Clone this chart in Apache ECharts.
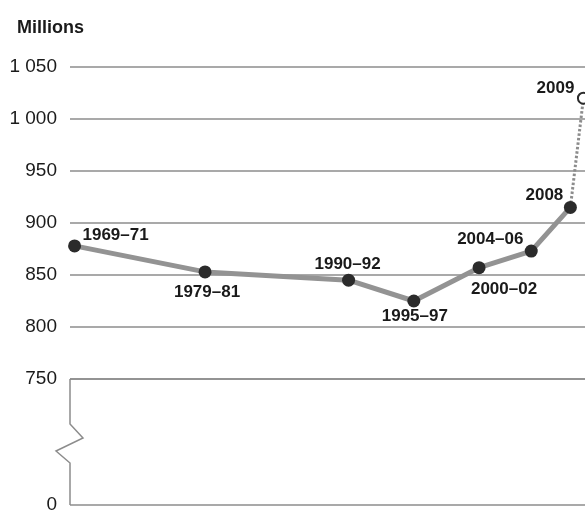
<!DOCTYPE html>
<html>
<head>
<meta charset="utf-8">
<script src="https://cdn.jsdelivr.net/npm/echarts@6/dist/echarts.min.js"></script>
<style>
  html, body { margin: 0; padding: 0; background: #fff; overflow: hidden; }
  #chart { width: 597px; height: 516px; }
</style>
</head>
<body>
<div id="chart"></div>
<script>
// Number of undernourished people in the world (millions)
const periods = ['1969–71', '1979–81', '1990–92', '1995–97', '2000–02', '2004–06', '2008', '2009'];
const midYears = [1970, 1980, 1991, 1996, 2001, 2005, 2008, 2009];
const undernourished = [878, 853, 845, 825, 857, 873, 915, 1020];
const upperTicks = [750, 800, 850, 900, 950, 1000, 1050];
const lowerTicks = [0, 750];

// label placement around each marker (centre offset in px)
const labelOffsets = [[41, -11], [2, 20], [-1, -16], [1, 15], [25, 22], [-41, -12], [-26, -12], [-28, -10]];

const LABEL_FONT = '"Liberation Sans", Arial, sans-serif';
const TICK_FONT = '"Liberation Sans", Arial, sans-serif';
const GRID_COLOR = '#8c8c8c';

function fmtTick(v) {
  if (v >= 1000) return Math.floor(v / 1000) + ' ' + String(v % 1000).padStart(3, '0');
  return String(v);
}

function pointItem(i, extra) {
  return Object.assign({
    value: [midYears[i], undernourished[i]],
    label: {
      show: true,
      position: 'inside',
      offset: labelOffsets[i],
      formatter: periods[i],
      fontFamily: LABEL_FONT,
      fontWeight: 'bold',
      fontSize: 17,
      color: '#1a1a1a'
    }
  }, extra || {});
}

const solidData = [];
for (let i = 0; i < 7; i++) solidData.push(pointItem(i));

const dottedData = [
  { value: [midYears[6], undernourished[6]], symbolSize: 0 },
  pointItem(7)
];

const chart = echarts.init(document.getElementById('chart'), null, { renderer: 'canvas' });

const xCommon = {
  type: 'value',
  min: 1969.65,
  max: 2010.04,
  show: false,
  splitLine: { show: false }
};

chart.setOption({
  animation: false,
  backgroundColor: '#ffffff',
  title: {
    text: 'Millions',
    left: 12,
    top: 14,
    textStyle: { fontFamily: LABEL_FONT, fontWeight: 'bold', fontSize: 18, color: '#1a1a1a' }
  },
  grid: [
    { left: 70, right: 0, top: 67, height: 312 },
    { left: 70, right: 0, top: 379, height: 126 }
  ],
  xAxis: [
    Object.assign({ gridIndex: 0 }, xCommon),
    Object.assign({ gridIndex: 1 }, xCommon)
  ],
  yAxis: [
    {
      gridIndex: 0,
      type: 'value',
      min: upperTicks[0],
      max: upperTicks[upperTicks.length - 1],
      interval: 50,
      axisLine: { show: false },
      axisTick: { show: false },
      axisLabel: {
        margin: 13,
        fontFamily: TICK_FONT,
        fontSize: 19,
        color: '#1a1a1a',
        formatter: fmtTick
      },
      splitLine: { show: true, lineStyle: { color: GRID_COLOR, width: 1.5 } }
    },
    {
      gridIndex: 1,
      type: 'value',
      min: lowerTicks[0],
      max: lowerTicks[1],
      interval: lowerTicks[1],
      axisLine: { show: false },
      axisTick: { show: false },
      axisLabel: {
        margin: 13,
        fontFamily: TICK_FONT,
        fontSize: 19,
        color: '#1a1a1a',
        formatter: v => (v === 0 ? '0' : '')
      },
      splitLine: { show: true, lineStyle: { color: GRID_COLOR, width: 1.5 } }
    }
  ],
  series: [
    {
      type: 'line',
      xAxisIndex: 0,
      yAxisIndex: 0,
      data: dottedData,
      symbol: 'circle',
      symbolSize: 11,
      clip: false,
      lineStyle: { color: '#8c8c8c', width: 3, type: [2.5, 2] },
      itemStyle: { color: '#ffffff', borderColor: '#2b2b2b', borderWidth: 2 },
      z: 2
    },
    {
      type: 'line',
      xAxisIndex: 0,
      yAxisIndex: 0,
      data: solidData,
      symbol: 'circle',
      symbolSize: 13,
      clip: false,
      lineStyle: { color: '#939393', width: 5 },
      itemStyle: { color: '#2b2b2b', borderWidth: 0 },
      z: 3
    }
  ]
});

// broken-axis line on the left of the lower band, with a zigzag marking the gap
const bandTop = chart.convertToPixel({ gridIndex: 1 }, [1969.65, lowerTicks[1]]);
const bandBottom = chart.convertToPixel({ gridIndex: 1 }, [1969.65, lowerTicks[0]]);
const ax = bandTop[0], ay0 = bandTop[1], ay1 = bandBottom[1];
chart.setOption({
  graphic: [{
    type: 'polyline',
    shape: {
      points: [
        [ax, ay0], [ax, ay0 + 45], [ax + 13, ay0 + 59],
        [ax - 14, ay0 + 72], [ax, ay0 + 84], [ax, ay1]
      ]
    },
    style: { stroke: GRID_COLOR, lineWidth: 1.5, fill: null },
    z: 10
  }]
});
</script>
</body>
</html>
